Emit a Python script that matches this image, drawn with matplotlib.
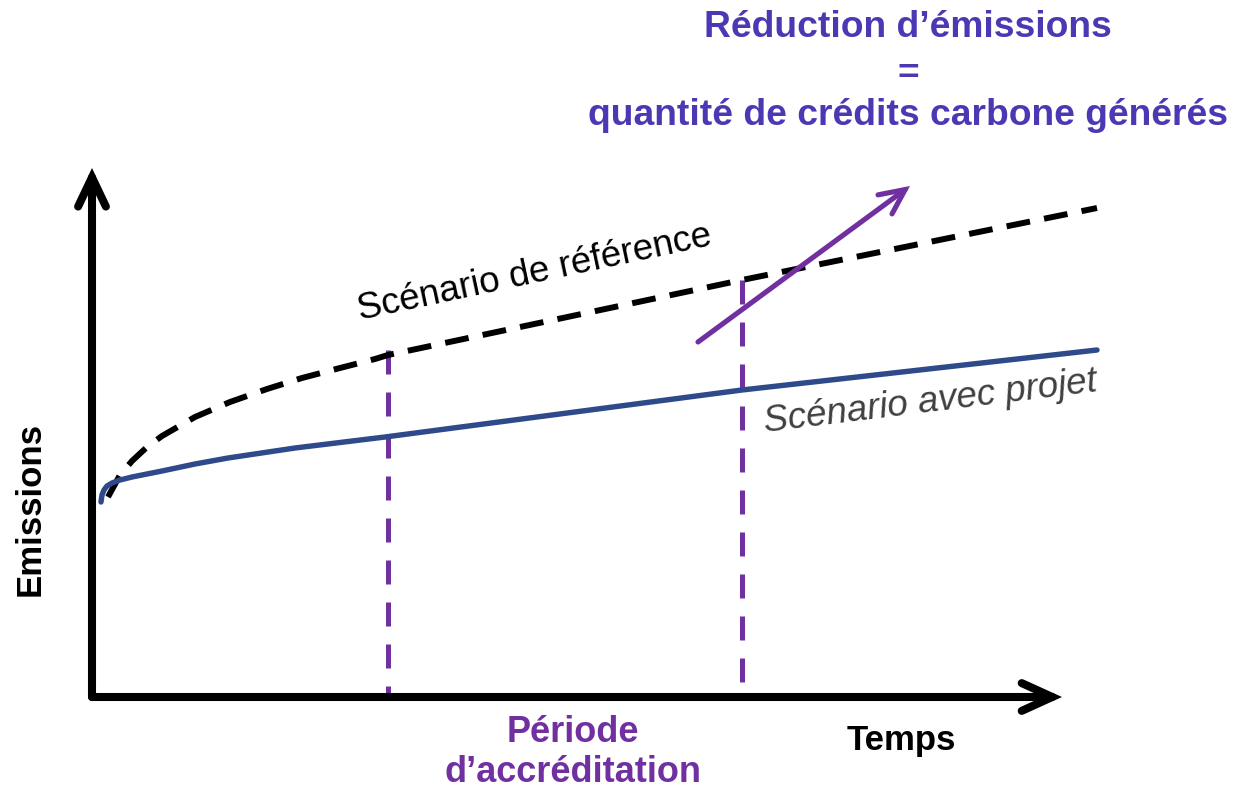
"""
Reduction d'emissions: scenario de reference vs scenario avec projet.
Writes: out.png (1234x789)
"""

import matplotlib.pyplot as plt
from matplotlib.patches import FancyArrowPatch

# --- data (time / emissions units, 0,0 = axes origin) ---
REF_T = [0.16, 0.28, 0.40, 0.55, 0.70, 1.03, 1.38, 1.75, 2.10, 2.48, 2.83,
         2.96, 6.50, 10.05]
REF_E = [2.00, 2.22, 2.36, 2.50, 2.61, 2.80, 2.95, 3.08, 3.19, 3.29, 3.38,
         3.42, 4.17, 4.89]

PROJ_T = [0.09, 0.10, 0.12, 0.15, 0.20, 0.28, 0.40, 0.55, 0.70, 1.03, 1.36,
          2.03, 2.93, 6.50, 10.05]
PROJ_E = [1.95, 2.02, 2.07, 2.11, 2.14, 2.17, 2.20, 2.23, 2.26, 2.33, 2.39,
          2.49, 2.60, 3.07, 3.47]

PERIOD_T = [2.96, 6.50]          # debut / fin de la periode d'accreditation
PERIOD_TOP = [3.47, 4.17]
PERIOD_BOTTOM = [0.0, 0.07]

GAIN_START = (6.06, 3.55)        # fleche "reduction"
GAIN_END = (8.18, 5.11)

X_AXIS_END = 9.70
Y_AXIS_END = 5.29

TITLE_LINES = ["Réduction d’émissions", "=", "quantité de crédits carbone générés"]

PURPLE = "#7030A0"
TITLE_COLOR = "#4B39B3"
BLUE = "#2F4A8A"
FONT = "Liberation Sans"

fig = plt.figure(figsize=(12.34, 7.89), dpi=100)
ax = fig.add_axes([0, 0, 1, 1])
ax.set_xlim(-0.92, 11.42)
ax.set_ylim(-0.92, 6.97)
ax.axis("off")


def arrow(start, end, color, lw, hl, hw):
    p = FancyArrowPatch(
        start, end, arrowstyle=f"->,head_length={hl},head_width={hw}",
        mutation_scale=1, lw=lw, color=color, shrinkA=0, shrinkB=0,
        capstyle="round", joinstyle="miter", zorder=5,
    )
    ax.add_patch(p)


# axes arrows
arrow((0, 0), (0, Y_AXIS_END), "black", 5.8, 21, 10)
arrow((0, 0), (X_AXIS_END, 0), "black", 5.8, 22, 10)

# curves
ax.plot(REF_T, REF_E, color="black", lw=4.3, linestyle=(0, (4.0, 2.4)),
        solid_capstyle="butt", zorder=3)
ax.plot(PROJ_T, PROJ_E, color=BLUE, lw=3.9, solid_capstyle="round",
        solid_joinstyle="round", zorder=4)

# accreditation period
for t, top, bot in zip(PERIOD_T, PERIOD_TOP, PERIOD_BOTTOM):
    ax.plot([t, t], [top, bot], color=PURPLE, lw=3.6,
            linestyle=(0, (4.8, 3.6)), zorder=2)

arrow(GAIN_START, GAIN_END, PURPLE, 3.7, 18, 8.5)

# texts
ax.text(4.45, 4.15, "Scénario de référence", fontsize=26.5, family=FONT,
        rotation=12, rotation_mode="anchor", ha="center", va="baseline")
ax.text(8.40, 2.85, "Scénario avec projet", fontsize=26.5, family=FONT,
        style="italic", color="#404040", rotation=7,
        rotation_mode="anchor", ha="center", va="baseline")

ax.text(-0.62, 1.88, "Emissions", fontsize=25, family=FONT, weight="bold",
        rotation=90, ha="center", va="center")
ax.text(8.09, -0.53, "Temps", fontsize=25, family=FONT, weight="bold",
        ha="center", va="baseline")
ax.text(4.81, -0.45, "Période", fontsize=26, family=FONT, weight="bold",
        color=PURPLE, ha="center", va="baseline")
ax.text(4.81, -0.85, "d’accréditation", fontsize=26, family=FONT,
        weight="bold", color=PURPLE, ha="center", va="baseline")

ax.text(8.16, 6.60, TITLE_LINES[0], fontsize=26.8, family=FONT, weight="bold",
        color=TITLE_COLOR, ha="center", va="baseline")
ax.text(8.16, 6.22, TITLE_LINES[1], fontsize=26.8, family=FONT, weight="bold",
        color=TITLE_COLOR, ha="center", va="center")
ax.text(8.16, 5.72, TITLE_LINES[2], fontsize=26.8, family=FONT, weight="bold",
        color=TITLE_COLOR, ha="center", va="baseline")

fig.savefig("out.png", dpi=100, facecolor="white")
